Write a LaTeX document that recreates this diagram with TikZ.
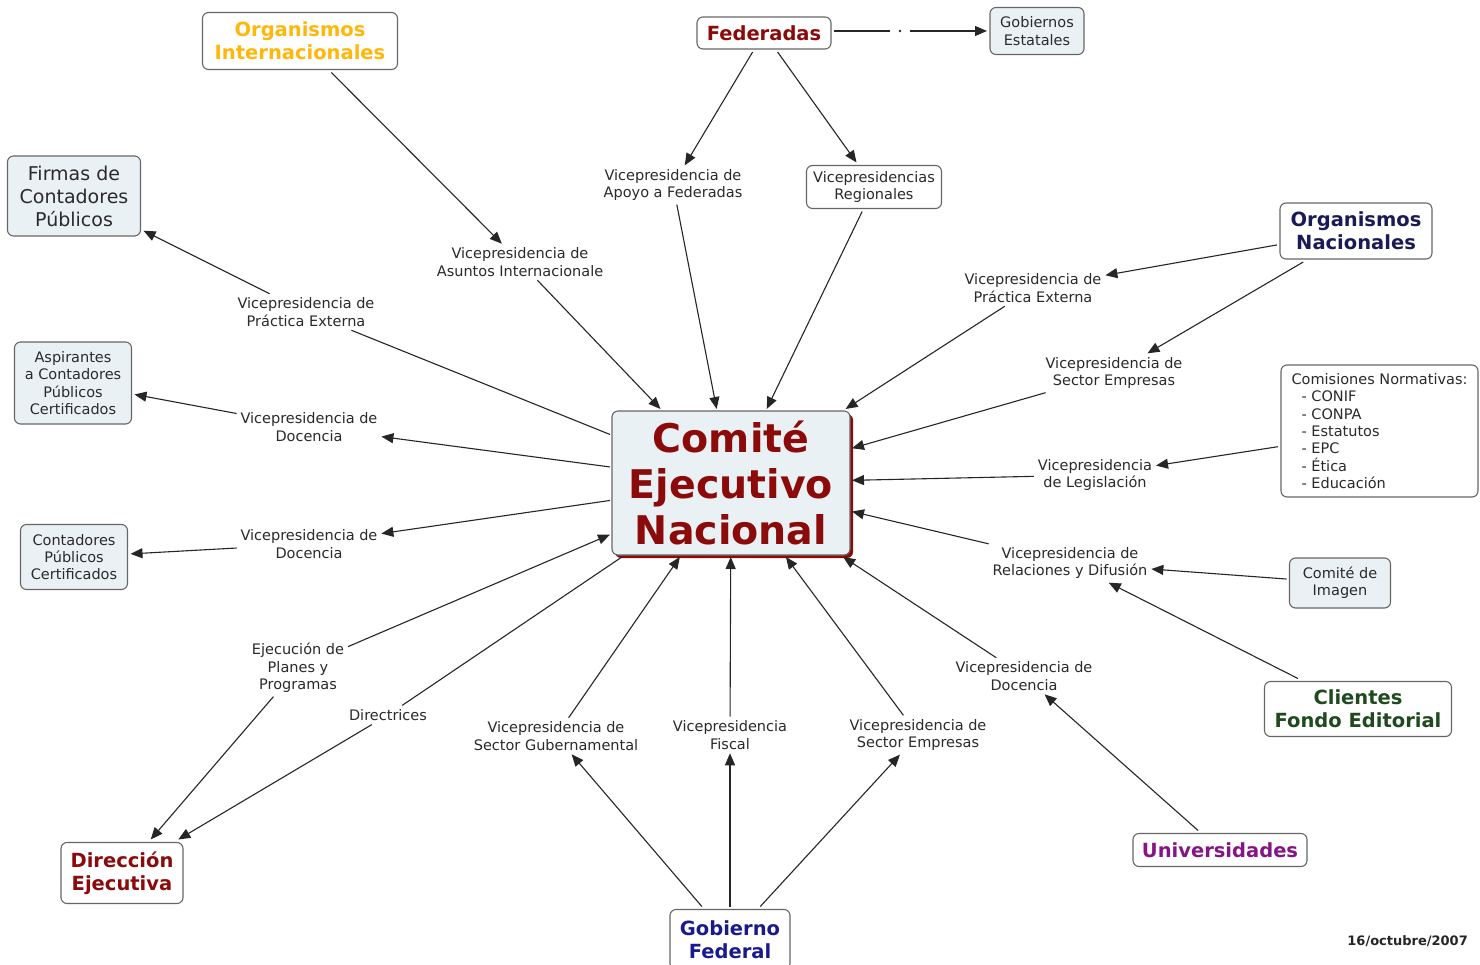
\documentclass[tikz,border=0pt]{standalone}
\usepackage{fontspec}
\setmainfont{DejaVu Sans}
\usetikzlibrary{arrows.meta,shadows}
\definecolor{dred}{HTML}{8B0A0A}
\definecolor{gold}{HTML}{FFB80A}
\definecolor{navy}{HTML}{1A1A55}
\definecolor{gblue}{HTML}{1A1A8F}
\definecolor{dgreen}{HTML}{1E4A1E}
\definecolor{purp}{HTML}{851585}
\definecolor{boxfill}{HTML}{EAF1F4}
\definecolor{txt}{HTML}{2A2A2A}
\begin{document}
\begin{tikzpicture}[x=1pt,y=-1pt,
  box/.style={draw=black!60, line width=1.1pt, rounded corners=6pt, align=center, inner sep=0pt, outer sep=3pt, fill=white},
  lbox/.style={box, fill=boxfill},
  big/.style={font=\bfseries\fontsize{19.5}{23}\selectfont},
  mid/.style={font=\fontsize{19}{23}\selectfont, text=txt},
  sm/.style={font=\fontsize{14.5}{17.3}\selectfont, text=txt},
  lab/.style={sm, align=center, inner sep=2pt, outer sep=2pt},
  con/.style={draw=black!85, line width=1.1pt, -{Triangle[length=12pt,width=10pt]}},
  ln/.style={draw=black!85, line width=1.1pt}]
\useasboundingbox (0,0) rectangle (1480,965);
\fill[white] (0,0) rectangle (1480,965);

% concept boxes
\node[box, big, text=gold, minimum width=195pt, minimum height=57pt] (oi) at (300,41) {Organismos\\Internacionales};
\node[box, big, text=dred, minimum width=134pt, minimum height=32pt] (fed) at (764,33) {Federadas};
\node[lbox, sm, minimum width=94pt, minimum height=47pt] (ge) at (1037,31) {Gobiernos\\Estatales};
\node[lbox, mid, minimum width=133pt, minimum height=80pt] (fir) at (74,196) {Firmas de\\Contadores\\Públicos};
\node[box, sm, minimum width=135pt, minimum height=43pt] (vreg) at (874,187) {Vicepresidencias\\Regionales};
\node[box, big, text=navy, minimum width=152pt, minimum height=56pt] (on) at (1356,231) {Organismos\\Nacionales};
\node[lbox, sm, minimum width=117pt, minimum height=82pt] (asp) at (73,383) {Aspirantes\\a Contadores\\Públicos\\Certificados};
\node[box, sm, align=left, minimum width=197pt, minimum height=132pt] (com) at (1379.5,431) {Comisiones Normativas:\\\hspace*{10pt}- CONIF\\\hspace*{10pt}- CONPA\\\hspace*{10pt}- Estatutos\\\hspace*{10pt}- EPC\\\hspace*{10pt}- Ética\\\hspace*{10pt}- Educación};
\node[lbox, outer sep=2pt, text=dred, font=\bfseries\fontsize{39.5}{46}\selectfont, minimum width=238pt, minimum height=144pt, drop shadow={shadow xshift=3pt, shadow yshift=-3pt, fill=dred, opacity=1}] (cen) at (731,483) {Comité\\Ejecutivo\\Nacional};
\node[lbox, sm, minimum width=107pt, minimum height=65pt] (cpc) at (74,557) {Contadores\\Públicos\\Certificados};
\node[lbox, sm, minimum width=101pt, minimum height=50pt] (ci) at (1340,583) {Comité de\\Imagen};
\node[box, big, text=dgreen, minimum width=187pt, minimum height=55pt] (cli) at (1358,709) {Clientes\\Fondo Editorial};
\node[box, big, text=dred, minimum width=122pt, minimum height=61pt] (dir) at (122,873) {Dirección\\Ejecutiva};
\node[box, big, text=purp, minimum width=174pt, minimum height=33pt] (uni) at (1220,850) {Universidades};
\node[box, big, text=gblue, minimum width=120pt, minimum height=60pt] (gf) at (730,939.5) {Gobierno\\Federal};

% linking phrases
\node[lab] (lai) at (520,262) {Vicepresidencia de\\Asuntos Internacionale};
\node[lab] (laf) at (673,185) {Vicepresidencia de\\Apoyo a Federadas};
\node[lab] (lpel) at (306,312) {Vicepresidencia de\\Práctica Externa};
\node[lab] (lper) at (1033,288) {Vicepresidencia de\\Práctica Externa};
\node[lab] (lser) at (1114,373) {Vicepresidencia de\\Sector Empresas};
\node[lab] (ld1) at (309,427) {Vicepresidencia de\\Docencia};
\node[lab] (lleg) at (1095,475) {Vicepresidencia\\de Legislación};
\node[lab] (ld2) at (309,544) {Vicepresidencia de\\Docencia};
\node[lab] (lrd) at (1070,563) {Vicepresidencia de\\Relaciones y Difusión};
\node[lab] (lej) at (298,668) {Ejecución de\\Planes y\\Programas};
\node[lab] (ldr) at (1024,676) {Vicepresidencia de\\Docencia};
\node[lab] (ldir) at (388,715) {Directrices};
\node[lab] (lsg) at (556,736) {Vicepresidencia de\\Sector Gubernamental};
\node[lab] (lfi) at (730,735) {Vicepresidencia\\Fiscal};
\node[lab] (lseb) at (918,735) {Vicepresidencia de\\Sector Empresas};
\node[circle, fill=black!85, inner sep=0pt, minimum size=2.6pt, outer sep=9pt] (dot) at (900,31) {};
\node[anchor=east, inner sep=0pt, font=\bfseries\fontsize{13}{15}\selectfont, text=black!85] (date) at (1468,941) {16/octubre/2007};

% connectors
\draw[con] (oi) -- (lai);
\draw[con] (lai) -- (cen);
\draw[con] (fed) -- (laf);
\draw[con] (fed) -- (vreg);
\draw[ln] (fed.east |- dot) -- (dot);
\draw[con] (dot) -- (ge.west |- dot);
\draw[con] (laf) -- (cen);
\draw[con] (vreg) -- (cen);
\draw[con] (on) -- (lper);
\draw[con] (on) -- (lser);
\draw[con] (lper) -- (cen);
\draw[con] (lser) -- (cen);
\draw[con] (com) -- (lleg);
\draw[con] (lleg) -- (cen);
\draw[con] (lrd) -- (cen);
\draw[con] (ci) -- (lrd);
\draw[con] (cli) -- (lrd);
\draw[con] (ldr) -- (cen);
\draw[con] (uni) -- (ldr);
\draw[con] (gf) -- (lsg);
\draw[con] (gf) -- (lfi);
\draw[con] (gf) -- (lseb);
\draw[con] (lsg) -- (cen);
\draw[con] (lfi) -- (cen);
\draw[con] (lseb) -- (cen);
\draw[ln] (cen) -- (lpel);
\draw[con] (lpel) -- (fir);
\draw[con] (cen) -- (ld1);
\draw[con] (ld1) -- (asp);
\draw[con] (cen) -- (ld2);
\draw[con] (ld2) -- (cpc);
\draw[con] (lej) -- (cen);
\draw[ln] (cen) -- (ldir);
\draw[con] (lej) -- (dir);
\draw[con] (ldir) -- (dir);
\end{tikzpicture}
\end{document}
